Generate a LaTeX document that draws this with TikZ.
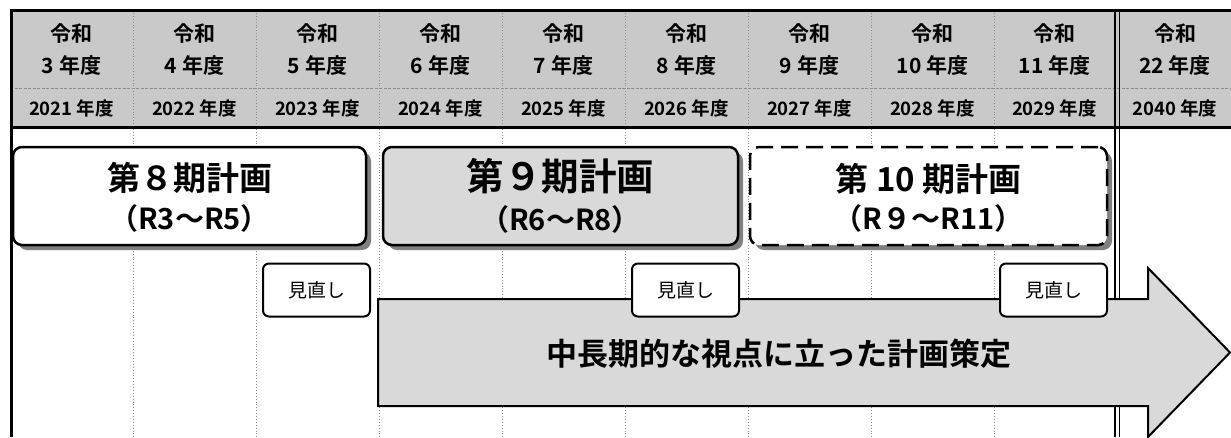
\documentclass[tikz,border=0pt]{standalone}
\usepackage{fontspec}
\setmainfont{Noto Sans CJK JP}[BoldFont={* Bold}]
\begin{document}
\begin{tikzpicture}[x=1pt,y=-1pt,
  hdr/.style={font=\bfseries\fontsize{21}{25}\selectfont, inner sep=0pt},
  yr/.style={font=\bfseries\fontsize{18.5}{22}\selectfont, inner sep=0pt},
  gridline/.style={draw=black!45, line width=0.9pt, dotted},
  rowsep/.style={draw=black!45, line width=1pt, dash pattern=on 3pt off 1.5pt},
  border/.style={draw=black, line width=3pt},
  shadowbox/.style={fill=black!50, draw=none, rounded corners=9pt, inner sep=0pt, minimum height=98pt},
  planbox/.style={draw=black, line width=2.5pt, rounded corners=9pt, inner sep=0pt, minimum height=98pt},
  ttl/.style={font=\bfseries\fontsize{33}{38}\selectfont, inner sep=0pt},
  bigttl/.style={font=\bfseries\fontsize{37.5}{42}\selectfont, inner sep=0pt},
  sub/.style={font=\bfseries\fontsize{29}{33}\selectfont, inner sep=0pt},
  revbox/.style={draw=black, fill=white, line width=2pt, rounded corners=6pt, minimum width=107pt, minimum height=53pt, inner sep=0pt, font=\fontsize{19}{22}\selectfont},
  arrowshape/.style={draw=black, fill=black!15, line width=2pt, line join=miter},
  arrowtext/.style={font=\bfseries\fontsize{31}{36}\selectfont, inner sep=0pt}
]
\useasboundingbox (0,0) rectangle (1231,437);
% header background
\fill[black!21] (10,10) rectangle (1231,127);
% grid lines
\foreach \x in {133,256,379,502,625,748,871,994}
  \draw[gridline] (\x,10) -- (\x,437);
\draw[rowsep] (10,88) -- (1231,88);
% borders
\draw[border] (10,10) -- (1231,10);
\draw[border] (10,127) -- (1231,127);
\draw[border] (11,8.5) -- (11,437);
\draw[draw=black, line width=1.5pt] (1115,10) -- (1115,437);
\draw[draw=black, line width=1.5pt] (1119.5,10) -- (1119.5,437);
% header texts
\foreach \cx/\r/\y [count=\i] in {71.5/3/2021,194.5/4/2022,317.5/5/2023,440.5/6/2024,563.5/7/2025,686.5/8/2026,809.5/9/2027,932.5/10/2028,1054.5/11/2029,1175/22/2040}{
  \node[hdr] (ra\i) at (\cx,34) {令和};
  \node[hdr] (rb\i) at (\cx,66) {\r\ 年度};
  \node[yr] (yy\i) at (\cx,108) {\y\ 年度};
}
% plan boxes
\node[shadowbox, minimum width=353pt] (s8) at (194.5,201) {};
\node[planbox, fill=white, minimum width=353pt] (p8) at (189.5,196) {};
\node[shadowbox, minimum width=355pt] (s9) at (565.5,201) {};
\node[planbox, fill=black!15, minimum width=355pt] (p9) at (560.5,196) {};
\node[shadowbox, minimum width=357pt] (s10) at (933.5,201) {};
\node[planbox, fill=white, dash pattern=on 17pt off 8pt, minimum width=357pt] (p10) at (928.5,196) {};
\node[ttl] (t8) at (189.5,178) {第８期計画};
\node[sub] (u8) at (189.5,218) {（R3～R5）};
\node[bigttl] (t9) at (560.5,176) {第９期計画};
\node[sub] (u9) at (560.5,219) {（R6～R8）};
\node[ttl] (t10) at (928.5,179) {第 10 期計画};
\node[sub] (u10) at (928.5,218) {（R９～R11）};
% arrow
\draw[arrowshape] (378,299) -- (1148,299) -- (1148,268) -- (1230,352.5) -- (1148,437) -- (1148,406) -- (378,406) -- cycle;
\node[arrowtext] (at) at (779,354) {中長期的な視点に立った計画策定};
% review boxes
\node[revbox] (r1) at (316.5,290) {見直し};
\node[revbox] (r2) at (685.5,290) {見直し};
\node[revbox] (r3) at (1053.5,290) {見直し};
\end{tikzpicture}
\end{document}
